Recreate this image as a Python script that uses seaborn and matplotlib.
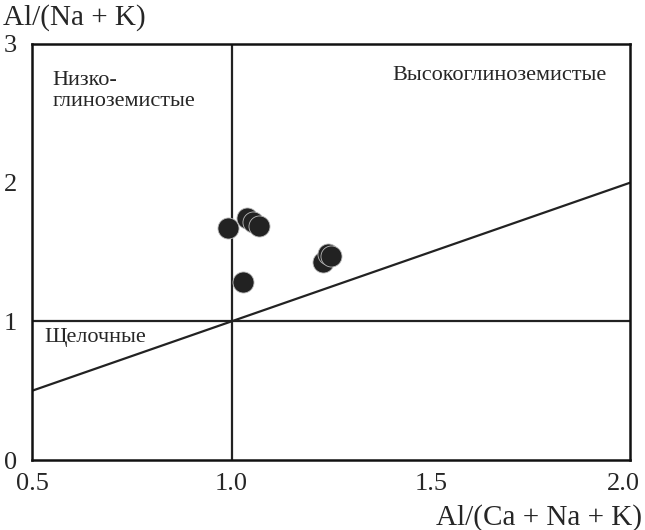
import seaborn as sns
import matplotlib.pyplot as plt
import matplotlib.transforms as mtransforms
import pandas as pd

# sample points
acnk = [0.991, 1.038, 1.054, 1.069, 1.029, 1.229, 1.243, 1.250]
ank = [1.675, 1.747, 1.716, 1.687, 1.283, 1.428, 1.485, 1.470]

x_ticks = [0.5, 1.0, 1.5, 2.0]
x_tick_labels = ['0.5', '1.0', '1.5', '2.0']
y_ticks = [0, 1, 2, 3]
y_tick_labels = ['0', '1', '2', '3']

# boundary lines
sep_x = [0.5, 2.0]
sep_y = [0.5, 2.0]

df = pd.DataFrame({'acnk': acnk, 'ank': ank})

sns.set_style('white')
plt.rcParams['font.family'] = ['Liberation Serif', 'DejaVu Serif']

fig = plt.figure(figsize=(6.45, 5.3), dpi=100)
ax = fig.add_axes([0.05, 0.132, 0.927, 0.785])

ax.axvline(1.0, color='#222222', lw=1.6, zorder=1)
ax.axhline(1.0, color='#222222', lw=1.6, zorder=1)
ax.plot(sep_x, sep_y, color='#222222', lw=1.6, zorder=1)

sns.scatterplot(data=df, x='acnk', y='ank', ax=ax, s=230, color='#222222',
                edgecolor='#bbbbbb', linewidth=0.6, zorder=3)

ax.set_xlim(0.5, 2.0)
ax.set_ylim(0, 3)
ax.set_xticks(x_ticks)
ax.set_xticklabels(x_tick_labels)
ax.set_yticks(y_ticks)
ax.set_yticklabels(y_tick_labels)
ax.tick_params(direction='in', length=6, width=1.5, labelsize=19, color='#111111')
ax.tick_params(axis='x', pad=9)
ax.tick_params(axis='y', pad=11)
for sp in ax.spines.values():
    sp.set_linewidth(1.8)
    sp.set_color('#111111')

# last x label sits a bit left of its tick, as in the original
last = ax.get_xticklabels()[-1]
last.set_transform(last.get_transform() +
                   mtransforms.ScaledTranslation(-5 / 72, 0, fig.dpi_scale_trans))

ax.set_xlabel('')
ax.set_ylabel('')
fig.text(0.004, 0.967, 'Al/(Na + K)', fontsize=21, va='center', ha='left')
fig.text(0.995, 0.023, 'Al/(Ca + Na + K)', fontsize=21, va='center', ha='right')

ax.text(0.55, 2.66, 'Низко-\nглиноземистые', fontsize=16, va='center', ha='left',
        linespacing=1.15)
ax.text(1.403, 2.77, 'Высокоглиноземистые', fontsize=16, va='center', ha='left')
ax.text(0.53, 0.88, 'Щелочные', fontsize=16, va='center', ha='left')

fig.savefig('out.png', dpi=100)
